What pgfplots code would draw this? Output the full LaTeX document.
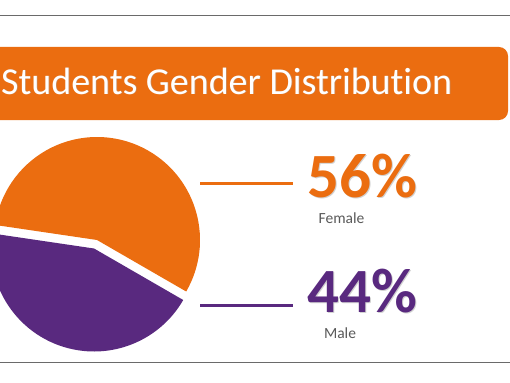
\documentclass[border=0pt]{standalone}
\usepackage{pgfplots}
\usepackage{pgfplotstable}
\pgfplotsset{compat=1.18}
\usepackage{fontspec}
\setmainfont[Ligatures=NoCommon]{Carlito}
\definecolor{orangeC}{HTML}{EB6D10}
\definecolor{purpleC}{HTML}{59297F}
\definecolor{greyT}{HTML}{595959}
\definecolor{rule}{HTML}{6A6A6A}

\pgfplotstableread{
label value
Female 56
Male 44
}\gender

\begin{document}
\begin{tikzpicture}
\pgfplotstablegetelem{0}{value}\of\gender \let\fval\pgfplotsretval
\pgfplotstablegetelem{1}{value}\of\gender \let\mval\pgfplotsretval
\pgfmathsetmacro{\aStart}{-30}
\pgfmathsetmacro{\aMid}{\aStart+3.6*\fval}
\pgfmathsetmacro{\aEnd}{\aMid+3.6*\mval}
\pgfmathsetmacro{\aHalf}{(\aMid+\aEnd)/2}
\begin{axis}[name=ax, x=1bp, y=1bp, xmin=0, xmax=510, ymin=0, ymax=382,
  hide axis, clip=true]
% frame rules
\addplot[rule, line width=1bp] coordinates {(0,366) (510,366)};
\addplot[rule, line width=1bp] coordinates {(0,20) (510,20)};
% title bar
\fill[orangeC, rounded corners=9bp] (axis cs:-20,262) rectangle (axis cs:508,335);
\node[anchor=base west, inner sep=0pt, text depth=0pt, text=black!35, opacity=0.5] at (axis cs:1.8,287.2)
  {\fontsize{38bp}{40bp}\selectfont Students Gender Distribution};
\node[anchor=base west, inner sep=0pt, text depth=0pt, text=white] at (axis cs:1,288)
  {\fontsize{38bp}{40bp}\selectfont Students Gender Distribution};
% pie: Female slice
\fill[orangeC] (axis cs:97,142) -- ++(\aStart:103bp)
  arc[start angle=\aStart, end angle=\aMid, radius=103bp] -- cycle;
% pie: Male slice (exploded)
\fill[purpleC] (axis cs:97,142) ++(\aHalf:9bp) -- ++(\aMid:103bp)
  arc[start angle=\aMid, end angle=\aEnd, radius=103bp] -- cycle;
% connector lines
\addplot[orangeC, line width=3bp] coordinates {(200,199) (293,199)};
\addplot[purpleC, line width=3bp] coordinates {(200,77) (293,77)};
% values
\node[anchor=base west, inner sep=0pt, text depth=0pt, text=black!30, opacity=0.6] at (axis cs:308.2,183.8)
  {\fontsize{63bp}{64bp}\selectfont\bfseries 56\%};
\node[anchor=base west, inner sep=0pt, text depth=0pt, text=orangeC] at (axis cs:307,185)
  {\fontsize{63bp}{64bp}\selectfont\bfseries 56\%};
\node[anchor=base, inner sep=0pt, text=greyT] at (axis cs:341.5,159)
  {\fontsize{15.5bp}{16bp}\selectfont Female};
\node[anchor=base west, inner sep=0pt, text depth=0pt, text=black!30, opacity=0.6] at (axis cs:308.2,68.8)
  {\fontsize{63bp}{64bp}\selectfont\bfseries 44\%};
\node[anchor=base west, inner sep=0pt, text depth=0pt, text=purpleC] at (axis cs:307,70)
  {\fontsize{63bp}{64bp}\selectfont\bfseries 44\%};
\node[anchor=base, inner sep=0pt, text=greyT] at (axis cs:340,44)
  {\fontsize{15.5bp}{16bp}\selectfont Male};
\end{axis}
\pgfresetboundingbox
\path[use as bounding box] (ax.south west) rectangle (ax.north east);
\end{tikzpicture}
\end{document}
